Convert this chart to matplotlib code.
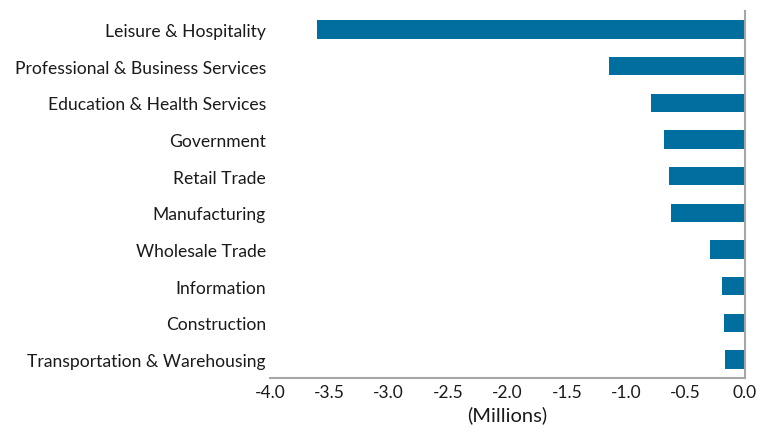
import matplotlib
matplotlib.use("Agg")
import matplotlib.pyplot as plt
import numpy as np

categories = ["Leisure & Hospitality", "Professional & Business Services",
              "Education & Health Services", "Government", "Retail Trade",
              "Manufacturing", "Wholesale Trade", "Information", "Construction",
              "Transportation & Warehousing"]
values = [-3.607, -1.143, -0.792, -0.680, -0.638, -0.626, -0.297, -0.196, -0.177, -0.166]
xticks = [-4.0, -3.5, -3.0, -2.5, -2.0, -1.5, -1.0, -0.5, 0.0]

plt.rcParams['font.family'] = ['Lato', 'DejaVu Sans']

fig = plt.figure(figsize=(7.68, 4.35), dpi=100)
ax = fig.add_axes([270/768, 1-379/435, 475/768, (379-12)/435])

y = np.arange(len(categories))
ax.barh(y, values, height=0.5, color="#006E9F")
ax.set_yticks(y)
ax.set_yticklabels(categories, fontsize=12.6, color="#1a1a1a")
ax.set_ylim(len(categories)-0.5, -0.5)
ax.set_xlim(-4.0, 0.0)
ax.set_xticks(xticks)
ax.set_xticklabels([f"{t:.1f}" for t in xticks], fontsize=12.5, color="#1a1a1a")
ax.tick_params(axis='y', length=0, pad=3)
ax.tick_params(axis='x', length=0, pad=4)
for s in ["top", "left"]:
    ax.spines[s].set_visible(False)
for s in ["right", "bottom"]:
    ax.spines[s].set_color("#A6A6A6")
    ax.spines[s].set_linewidth(1.5)
ax.set_xlabel("(Millions)", fontsize=14.5, color="#1a1a1a", labelpad=4)

fig.savefig("out.png", dpi=100)
